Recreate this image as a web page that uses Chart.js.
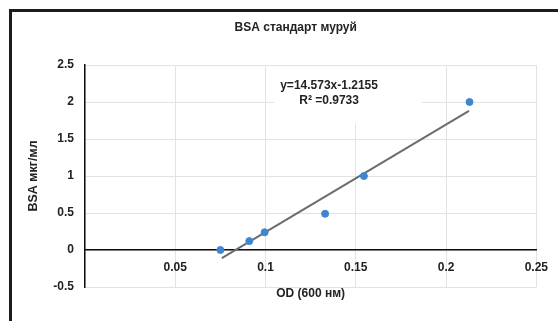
<!DOCTYPE html>
<html>
<head>
<meta charset="utf-8">
<script src="https://cdn.jsdelivr.net/npm/chart.js@4/dist/chart.umd.min.js"></script>
<style>
  html, body { margin: 0; padding: 0; background: #fff; overflow: hidden; }
  #wrap { position: relative; width: 558px; height: 321px; }
  canvas { position: absolute; left: 0; top: 0; }
  #frame { position: absolute; left: 9px; top: 9px; width: 570px; height: 340px;
           border: 3px solid #1c1c1c; box-sizing: border-box; pointer-events: none; }
</style>
</head>
<body>
<div id="wrap">
  <canvas id="myChart" width="558" height="321"></canvas>
  <div id="frame"></div>
</div>
<script>
// measured points
const odValues = [0.075, 0.091, 0.0995, 0.133, 0.1545, 0.213];
const bsaValues = [0, 0.12, 0.24, 0.49, 1.0, 2.0];

// trendline ends as drawn in the picture
const trendX = [0.0758, 0.2127];
const trendY = [-0.11, 1.88];

const xTicks = [0.05, 0.1, 0.15, 0.2, 0.25];
const yTicks = [-0.5, 0, 0.5, 1, 1.5, 2, 2.5];

const chartTitle = "BSA стандарт муруй";
const eqLines = ["y=14.573x-1.2155", "R\u00B2 =0.9733"];

const FONT = "'Liberation Sans', Arial, sans-serif";
const txt = "#222";

const extras = {
  id: "extras",
  beforeDatasetsDraw(chart) {
    const { ctx, scales } = chart;
    const cx = scales.x.getPixelForValue(0.1352);
    const y1 = scales.y.getPixelForValue(2.22);
    const y2 = scales.y.getPixelForValue(2.02);
    ctx.save();
    ctx.font = "bold 12px " + FONT;
    const w = ctx.measureText(eqLines[0]).width;
    // white label box covering the grid, like the source
    ctx.fillStyle = "#fff";
    ctx.fillRect(cx - w / 2 - 6, chart.chartArea.top + 1, w + 50, y2 - chart.chartArea.top + 22);
    ctx.fillStyle = txt;
    ctx.textAlign = "center";
    ctx.textBaseline = "middle";
    ctx.fillText(eqLines[0], cx, y1);
    ctx.fillText(eqLines[1], cx, y2);
    // chart title
    ctx.fillText(chartTitle, chart.width * 0.53, 28);
    ctx.restore();
  }
};

const ctx = document.getElementById("myChart").getContext("2d");
new Chart(ctx, {
  type: "scatter",
  data: {
    datasets: [
      {
        label: "BSA",
        data: odValues.map((x, i) => ({ x: x, y: bsaValues[i] })),
        backgroundColor: "#3f86d0",
        borderColor: "#3f86d0",
        pointRadius: 3.5,
        order: 1
      },
      {
        type: "line",
        label: "trend",
        data: trendX.map((x, i) => ({ x: x, y: trendY[i] })),
        borderColor: "#686d71",
        borderWidth: 2,
        pointRadius: 0,
        fill: false,
        order: 2
      }
    ]
  },
  options: {
    responsive: false,
    animation: false,
    layout: { padding: { left: 0, top: 65, right: 18, bottom: 34 } },
    plugins: {
      legend: { display: false },
      tooltip: { enabled: false },
      title: { display: false }
    },
    scales: {
      x: {
        type: "linear",
        position: { y: 0 },
        min: 0,
        max: 0.25,
        afterBuildTicks: (s) => { s.ticks = [0].concat(xTicks).map(v => ({ value: v })); },
        ticks: {
          color: txt,
          font: { family: FONT, size: 12, weight: "bold" },
          padding: 10,
          maxRotation: 0,
          callback: (v) => (v === 0 ? "" : String(v))
        },
        grid: { color: "#e3e3e3", drawTicks: false },
        border: { color: "#111", width: 1.5 },
        title: {
          display: true,
          text: "OD (600 нм)",
          color: txt,
          font: { family: FONT, size: 12, weight: "bold" },
          padding: { top: 2, bottom: 0 }
        }
      },
      y: {
        min: -0.5,
        max: 2.5,
        afterBuildTicks: (s) => { s.ticks = yTicks.map(v => ({ value: v })); },
        afterFit: (s) => { s.width = 85; },
        ticks: {
          color: txt,
          font: { family: FONT, size: 12, weight: "bold" },
          padding: 11,
          callback: (v) => String(v)
        },
        grid: { color: "#e3e3e3", drawTicks: false },
        border: { color: "#111", width: 1.5 },
        title: {
          display: true,
          text: "BSA мкг/мл",
          color: txt,
          font: { family: FONT, size: 12.5, weight: "bold" },
          padding: { top: 26, bottom: 0 }
        }
      }
    }
  },
  plugins: [extras]
});
</script>
</body>
</html>
